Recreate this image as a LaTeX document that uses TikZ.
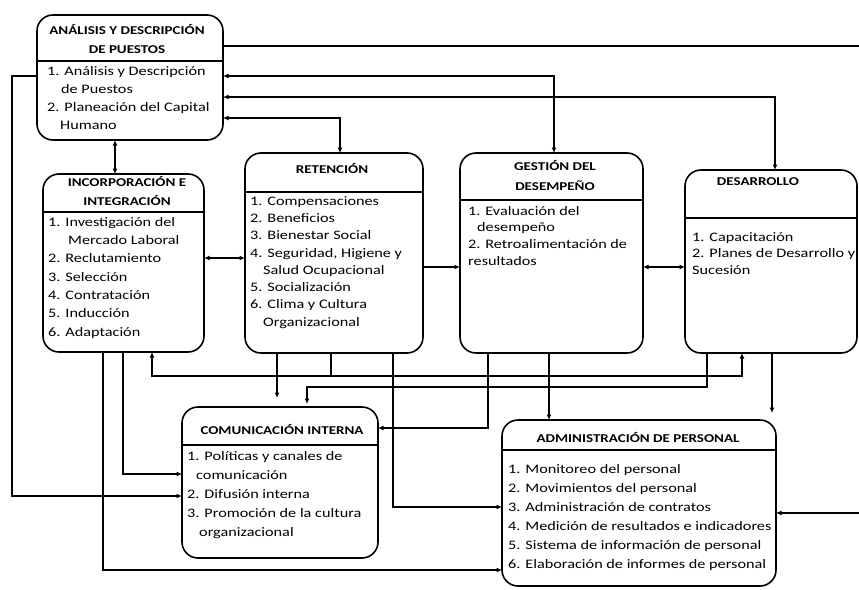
\documentclass[tikz,border=0pt]{standalone}
\usepackage{fontspec}
\setmainfont{Carlito}[FakeStretch=1.25]
\usetikzlibrary{arrows.meta}
\begin{document}
\begin{tikzpicture}[x=1pt,y=-1pt,
  box/.style={draw, line width=1.6pt, rounded corners=16pt, inner sep=0pt, outer sep=0pt},
  divider/.style={line width=1.2pt},
  conn/.style={line width=1.2pt, >={Latex[length=5.5pt,width=5pt]}},
  ttl/.style={font=\bfseries\fontsize{12}{19}\selectfont, align=center, inner sep=0pt},
  lst/.style={anchor=north west, inner sep=0pt, align=left}
]
\useasboundingbox[fill=white] (0,0) rectangle (859,589);

% boxes
\node[box, minimum width=186pt, minimum height=125pt] (ana) at (130,77.5) {};
\node[box, minimum width=161pt, minimum height=178pt] (inc) at (123.5,263) {};
\node[box, minimum width=178pt, minimum height=200pt] (ret) at (334,253) {};
\node[box, minimum width=183pt, minimum height=200pt] (ges) at (551.5,253) {};
\node[box, minimum width=172pt, minimum height=183pt] (des) at (771,261.5) {};
\node[box, minimum width=196pt, minimum height=151pt] (com) at (280,482.5) {};
\node[box, minimum width=274pt, minimum height=166pt] (adm) at (639,503) {};

% dividers
\draw[divider] (ana.west |- 0,61) -- (ana.east |- 0,61);
\draw[divider] (inc.west |- 0,212) -- (inc.east |- 0,212);
\draw[divider] (ret.west |- 0,192) -- (ret.east |- 0,192);
\draw[divider] (ges.west |- 0,200) -- (ges.east |- 0,200);
\draw[divider] (des.west |- 0,218) -- (des.east |- 0,218);
\draw[divider] (com.west |- 0,445) -- (com.east |- 0,445);
\draw[divider] (adm.west |- 0,450) -- (adm.east |- 0,450);

% titles
\node[ttl] (anat) at (127,39) {ANÁLISIS Y DESCRIPCIÓN\\DE PUESTOS};
\node[ttl] (inct) at (127,191) {INCORPORACIÓN E\\INTEGRACIÓN};
\node[ttl] (rett) at (332,168) {RETENCIÓN};
\node[ttl, font=\bfseries\fontsize{12}{20}\selectfont] (gest) at (555,175) {GESTIÓN DEL\\DESEMPEÑO};
\node[ttl] (dest) at (758,182) {DESARROLLO};
\node[ttl] (comt) at (282,429) {COMUNICACIÓN INTERNA};
\node[ttl] (admt) at (638,437) {ADMINISTRACIÓN DE PERSONAL};

% lists
\node[lst, font=\fontsize{13}{18}\selectfont] (anal) at (47,66)
 {1. Análisis y Descripción\\\hspace*{14pt}de Puestos\\2. Planeación del Capital\\\hspace*{13pt}Humano};
\node[lst, font=\fontsize{13}{18.3}\selectfont] (incl) at (48,217)
 {1. Investigación del\\\hspace*{20pt}Mercado Laboral\\2. Reclutamiento\\3. Selección\\4. Contratación\\5. Inducción\\6. Adaptación};
\node[lst, font=\fontsize{13}{17.3}\selectfont] (retl) at (250,196)
 {1. Compensaciones\\2. Beneficios\\3. Bienestar Social\\4. Seguridad, Higiene y\\\hspace*{13pt}Salud Ocupacional\\5. Socialización\\6. Clima y Cultura\\\hspace*{13pt}Organizacional};
\node[lst, font=\fontsize{13}{16.7}\selectfont] (gesl) at (468,206)
 {1. Evaluación del\\\hspace*{9pt}desempeño\\2. Retroalimentación de\\resultados};
\node[lst, font=\fontsize{13}{16.5}\selectfont] (desl) at (692,232)
 {1. Capacitación\\2. Planes de Desarrollo y\\Sucesión};
\node[lst, font=\fontsize{13}{19}\selectfont] (coml) at (187,451)
 {1. Políticas y canales de\\\hspace*{9pt}comunicación\\2. Difusión interna\\3. Promoción de la cultura\\\hspace*{12pt}organizacional};
\node[lst, font=\fontsize{13}{19}\selectfont] (adml) at (508,464)
 {1. Monitoreo del personal\\2. Movimientos del personal\\3. Administración de contratos\\4. Medición de resultados e indicadores\\5. Sistema de información de personal\\6. Elaboración de informes de personal};

% free ends at the right border
\coordinate (rtop) at (859,46);
\coordinate (rin) at (859,513);

% connectors
\draw[conn] (ana.east |- rtop) -- (rtop);
\draw[conn,->] (rin) -- (adm.east |- rin);
\draw[conn,<->] (ana.east |- 0,76) -| (ges.north -| 554,0);
\draw[conn,<->] (ana.east |- 0,97) -| (des.north -| 775,0);
\draw[conn,<->] (ana.east |- 0,118) -| (ret.north -| 340,0);
\draw[conn,<->] (ana.south -| 115,0) -- (inc.north -| 115,0);
\draw[conn,->] (ana.west |- 0,76) -| (12,496) -- (com.west |- 0,496);
\draw[conn,<->] (inc.east |- 0,258) -- (ret.west |- 0,258);
\draw[conn,->] (ret.east |- 0,267) -- (ges.west |- 0,267);
\draw[conn,<->] (ges.east |- 0,267) -- (des.west |- 0,267);
\draw[conn,<->] (inc.south -| 152,0) |- (742,376) -- (des.south -| 742,0);
\draw[conn] (ret.south -| 331,0) -- (331,376);
\draw[conn,->,shorten >=9pt] (ret.south -| 277,0) -- (com.north -| 277,0);
\draw[conn,->] (ret.south -| 393,0) |- (adm.west |- 0,507);
\draw[conn,->] (ges.south -| 549,0) -- (adm.north -| 549,0);
\draw[conn,->] (ges.south -| 488,0) |- (com.east |- 0,428);
\draw[conn,->,shorten >=7pt] (des.south -| 772,0) -- (adm.north -| 772,0);
\draw[conn,->,shorten >=3pt] (des.south -| 707,0) |- (307,387) -- (com.north -| 307,0);
\draw[conn,->] (inc.south -| 123,0) |- (com.west |- 0,474);
\draw[conn,->] (inc.south -| 103,0) |- (adm.west |- 0,570);
\end{tikzpicture}
\end{document}
